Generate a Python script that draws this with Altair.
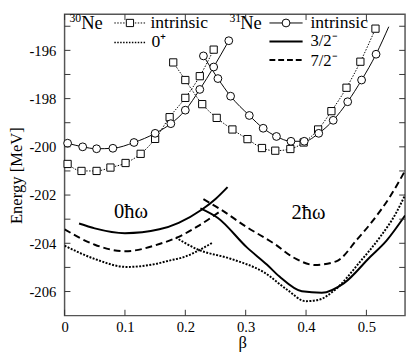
import altair as alt
import pandas as pd

FONT = "Liberation Serif"

# ---- 30Ne intrinsic (open squares, thin dotted line) ----
ne30_b1 = [0.005, 0.028, 0.053, 0.076, 0.101, 0.126, 0.15, 0.174, 0.2, 0.224, 0.247]
ne30_e1 = [-200.71, -201.0, -201.0, -200.86, -200.67, -200.29, -199.67, -198.77, -197.97, -197.07, -195.97]
ne30_b2 = [0.18, 0.2, 0.228, 0.252, 0.278, 0.303, 0.327, 0.349, 0.374, 0.396, 0.42, 0.442, 0.467, 0.49, 0.515]
ne30_e2 = [-196.5, -197.23, -198.23, -198.8, -199.28, -199.68, -200.05, -200.16, -200.09, -199.82,
           -199.28, -198.52, -197.55, -196.47, -195.1]

# ---- 31Ne intrinsic (open circles, thin solid line) ----
ne31_b1 = [0.005, 0.03, 0.053, 0.08, 0.115, 0.15, 0.176, 0.2, 0.224, 0.247, 0.272]
ne31_e1 = [-199.85, -200.0, -200.08, -200.06, -199.82, -199.44, -199.04, -198.48, -197.62, -196.69, -195.6]
ne31_b2 = [0.23, 0.254, 0.275, 0.306, 0.329, 0.351, 0.375, 0.397, 0.421, 0.445, 0.469, 0.492, 0.516, 0.537]
ne31_e2 = [-196.23, -197.17, -197.9, -198.7, -199.23, -199.57, -199.77, -199.77, -199.44, -198.9,
           -198.13, -197.23, -196.16, -195.02]
ne31_b2_markers = 13  # last line point carries no marker

# ---- 0 hbar omega configuration ----
s0_b = [0.024, 0.05, 0.1, 0.157, 0.189, 0.227, 0.251, 0.27]
s0_e = [-203.18, -203.38, -203.58, -203.42, -203.15, -202.61, -202.14, -201.67]
d0_b = [0.0, 0.05, 0.1, 0.157, 0.189, 0.221, 0.259]
d0_e = [-203.42, -204.06, -204.33, -204.03, -203.73, -203.29, -202.65]
p0_b = [0.0, 0.05, 0.103, 0.15, 0.173, 0.2, 0.227, 0.246]
p0_e = [-204.1, -204.65, -204.98, -204.86, -204.72, -204.55, -204.23, -203.96]

# ---- 2 hbar omega configuration ----
s2_b = [0.225, 0.254, 0.302, 0.335, 0.356, 0.393, 0.426, 0.463, 0.506, 0.533, 0.564]
s2_e = [-202.55, -202.95, -204.17, -204.88, -205.38, -205.99, -206.05, -205.65, -204.57, -203.9, -202.85]
d2_b = [0.23, 0.26, 0.3, 0.348, 0.38, 0.415, 0.45, 0.485, 0.512, 0.539, 0.564]
d2_e = [-202.17, -202.62, -203.3, -204.03, -204.6, -204.9, -204.75, -203.83, -203.02, -202.07, -200.99]
p2_b = [0.184, 0.221, 0.275, 0.33, 0.37, 0.399, 0.42, 0.447, 0.49, 0.522, 0.549, 0.564]
p2_e = [-203.76, -204.26, -204.64, -205.2, -205.95, -206.4, -206.35, -205.95, -204.75, -203.76, -202.75, -202.0]

# ---- axes ----
x_ticks = [0.0, 0.1, 0.2, 0.3, 0.4, 0.5]
y_labels = [-206, -204, -202, -200, -198, -196]
y_ticks = [-206, -205, -204, -203, -202, -201, -200, -199, -198, -197, -196, -195]

W, H = 349, 309
xs = alt.Scale(domain=[0, 0.564], nice=False, zero=False)
ys = alt.Scale(domain=[-207, -194.5], nice=False, zero=False)

x_axis = alt.Axis(values=x_ticks, format=".1~f", ticks=False, domain=False, grid=False,
                  labelFont=FONT, labelFontSize=15, labelColor="black", labelPadding=4,
                  labelFlush=False, labelOverlap=False,
                  title="β", titleFont=FONT, titleFontSize=17, titleFontWeight="normal",
                  titleColor="black", titleX=182, titleY=28, titleBaseline="middle", titleAlign="center")
y_axis = alt.Axis(values=y_labels, labelExpr="'-' + abs(datum.value)", ticks=False, domain=False,
                  grid=False, labelFont=FONT, labelFontSize=15, labelColor="black", labelPadding=9,
                  labelFlush=False, labelOverlap=False,
                  title="Energy [MeV]", titleFont=FONT, titleFontSize=17, titleFontWeight="normal",
                  titleColor="black", titleX=-40, titleY=165, titleAlign="center", titleBaseline="bottom")


def X(field):
    return alt.X(field, type="quantitative", scale=xs, axis=x_axis)


def Y(field):
    return alt.Y(field, type="quantitative", scale=ys, axis=y_axis)


def line(b, e, width=1.0, dash=None):
    df = pd.DataFrame({"b": b, "e": e})
    kw = dict(color="black", strokeWidth=width, interpolate="monotone", clip=True)
    if dash:
        kw["strokeDash"] = dash
    return alt.Chart(df).mark_line(**kw).encode(x=X("b"), y=Y("e"))


def markers(b, e, shape, size):
    df = pd.DataFrame({"b": b, "e": e})
    return alt.Chart(df).mark_point(shape=shape, size=size, filled=True, fill="white",
                                    stroke="black", strokeWidth=1, opacity=1).encode(
        x=X("b"), y=Y("e"))


one = pd.DataFrame({"k": [0]})


def txt(s, x, y, size=18, align="left"):
    return alt.Chart(one).mark_text(text=s, font=FONT, fontSize=size, align=align,
                                    baseline="alphabetic", color="black").encode(
        x=alt.value(x), y=alt.value(y))


def sample(x1, x2, y, width, dash=None):
    kw = dict(color="black", strokeWidth=width)
    if dash:
        kw["strokeDash"] = dash
    return alt.Chart(one).mark_rule(**kw).encode(x=alt.value(x1), x2=alt.value(x2), y=alt.value(y))


def legend_marker(x, y, shape, size):
    return alt.Chart(one).mark_point(shape=shape, size=size, filled=True, fill="white",
                                     stroke="black", strokeWidth=1, opacity=1).encode(
        x=alt.value(x), y=alt.value(y))


def data_text(s, b, e, size=21):
    return alt.Chart(one).mark_text(text=s, font=FONT, fontSize=size, align="center",
                                    baseline="middle", color="black").encode(
        x=alt.XDatum(b, type="quantitative", scale=xs, axis=x_axis),
        y=alt.YDatum(e, type="quantitative", scale=ys, axis=y_axis))


tick_col = "#333"
xt_df = pd.DataFrame({"t": x_ticks})
yt_df = pd.DataFrame({"t": y_ticks})
ticks = [
    alt.Chart(xt_df).mark_rule(color=tick_col, strokeWidth=1).encode(
        x=X("t"), y=alt.value(H), y2=alt.value(H - 6)),
    alt.Chart(xt_df).mark_rule(color=tick_col, strokeWidth=1).encode(
        x=X("t"), y=alt.value(0), y2=alt.value(6)),
    alt.Chart(yt_df).mark_rule(color=tick_col, strokeWidth=1).encode(
        y=Y("t"), x=alt.value(0), x2=alt.value(6)),
    alt.Chart(yt_df).mark_rule(color=tick_col, strokeWidth=1).encode(
        y=Y("t"), x=alt.value(W), x2=alt.value(W - 6)),
]

DOT_THIN = [1.5, 1.5]
DOT_THICK = [2, 1.5]
DASH = [7, 4]

layers = [
    line(ne30_b1, ne30_e1, 1, DOT_THIN),
    line(ne30_b2, ne30_e2, 1, DOT_THIN),
    line(ne31_b1, ne31_e1, 1),
    line(ne31_b2, ne31_e2, 1),
    line(s0_b, s0_e, 2),
    line(d0_b, d0_e, 2, DASH),
    line(p0_b, p0_e, 2, DOT_THICK),
    line(s2_b, s2_e, 2),
    line(d2_b, d2_e, 2, DASH),
    line(p2_b, p2_e, 2, DOT_THICK),
    markers(ne30_b1, ne30_e1, "square", 55),
    markers(ne30_b2, ne30_e2, "square", 55),
    markers(ne31_b1, ne31_e1, "circle", 64),
    markers(ne31_b2[:ne31_b2_markers], ne31_e2[:ne31_b2_markers], "circle", 64),
    data_text("0ħω", 0.11, -202.72),
    data_text("2ħω", 0.404, -202.76),
    # legend: 30Ne
    txt("30", 5, 8, 12), txt("Ne", 17, 15, 19),
    sample(51, 84, 9, 1, DOT_THIN), legend_marker(67, 9, "square", 55),
    txt("intrinsic", 88, 14),
    sample(51, 84, 29, 1.6, DOT_THIN),
    txt("0⁺", 89, 34),
    # legend: 31Ne
    txt("31", 169, 8, 12), txt("Ne", 180, 15, 19),
    sample(210, 244, 9, 1), legend_marker(227, 9, "circle", 64),
    txt("intrinsic", 252, 14),
    sample(210, 244, 28, 2),
    txt("3/2⁻", 252, 33, 17),
    sample(210, 244, 47, 2, [6, 3]),
    txt("7/2⁻", 252, 53, 17),
] + ticks

chart = alt.layer(*layers).properties(
    width=W, height=H,
    padding={"left": 0, "top": 0, "right": 1, "bottom": 0},
).configure_view(stroke="#555", strokeWidth=1.5)

chart.save("out.html", embed_options={"renderer": "svg", "actions": False})
